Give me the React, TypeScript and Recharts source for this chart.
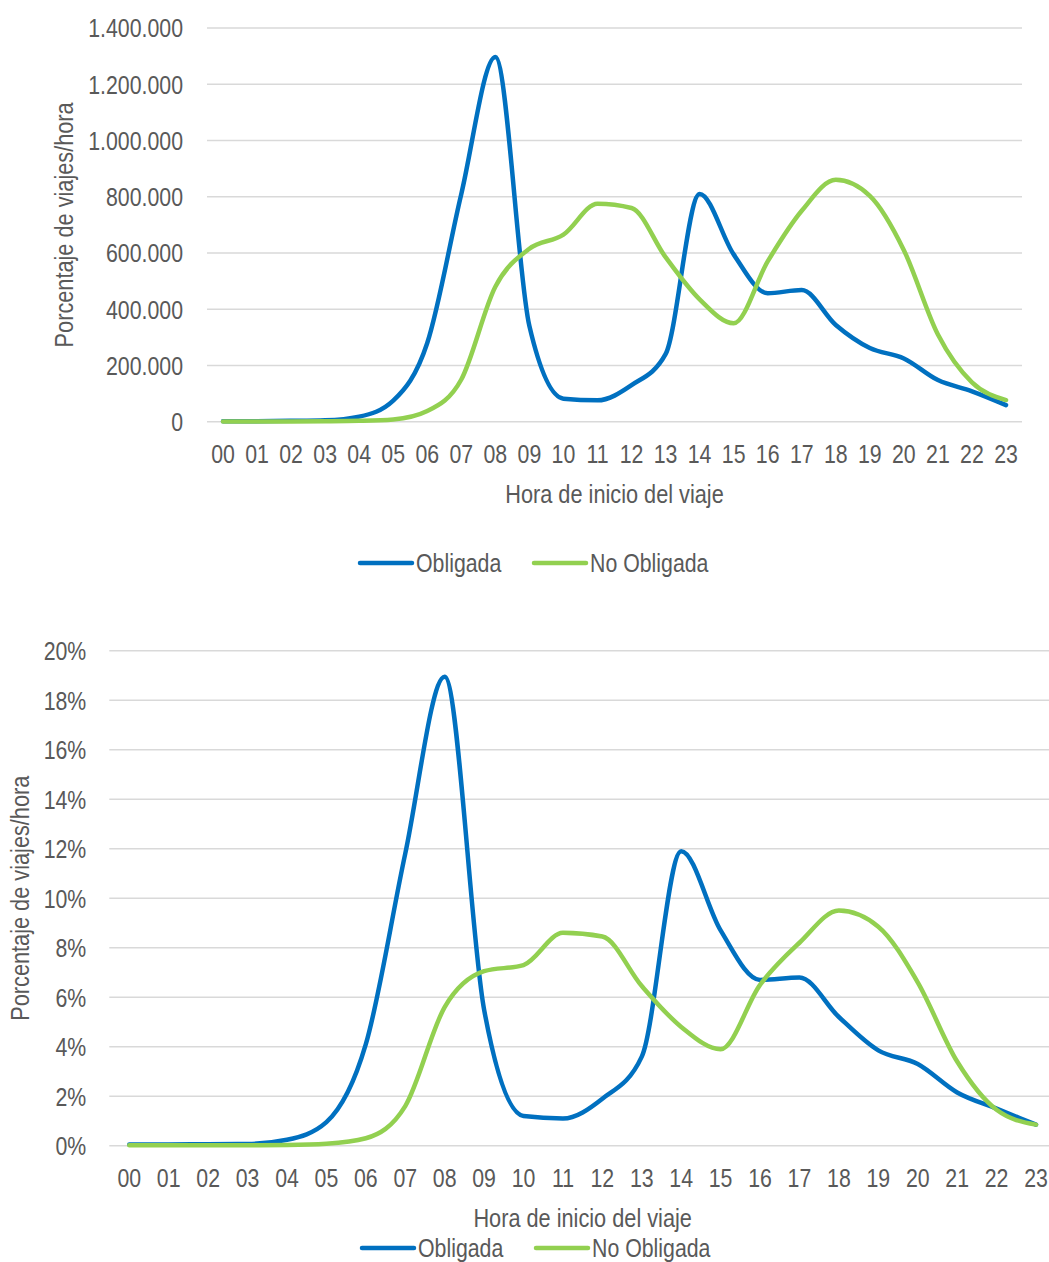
import React from "react"
import { LineChart, Line, XAxis, YAxis, CartesianGrid, Legend } from "recharts"

const hours = ["00", "01", "02", "03", "04", "05", "06", "07", "08", "09", "10", "11", "12", "13", "14", "15", "16", "17", "18", "19", "20", "21", "22", "23"]

// viajes por hora
const obligadaViajes = [2000, 2000, 3000, 5000, 18000, 75000, 280000, 810000, 1297000, 340000, 82000, 76000, 130000, 240000, 810000, 595000, 457000, 468000, 344000, 262000, 225000, 148000, 108000, 59000]
const noObligadaViajes = [1000, 1000, 1000, 1500, 3000, 8000, 38000, 150000, 480000, 615000, 665000, 775000, 760000, 585000, 435000, 350000, 570000, 750000, 860000, 803000, 610000, 310000, 140000, 77000]

// porcentaje de viajes por hora
const obligadaPct = [0.05, 0.05, 0.06, 0.07, 0.24, 0.95, 4.1, 11.8, 18.95, 5.5, 1.2, 1.1, 1.9, 3.6, 11.9, 8.7, 6.7, 6.8, 5.2, 3.85, 3.3, 2.15, 1.5, 0.85]
const noObligadaPct = [0.02, 0.02, 0.02, 0.02, 0.03, 0.08, 0.3, 1.6, 5.6, 7.05, 7.3, 8.6, 8.45, 6.45, 4.8, 3.9, 6.5, 8.2, 9.5, 8.85, 6.6, 3.4, 1.45, 0.85]

const viajesTicks = [0, 200000, 400000, 600000, 800000, 1000000, 1200000, 1400000]
const pctTicks = [0, 2, 4, 6, 8, 10, 12, 14, 16, 18, 20]

const BLUE = "#0070C0"
const GREEN = "#92D050"
const TEXT = "#595959"
const GRID = "#D9D9D9"
const FONT = "'Liberation Sans', Arial, sans-serif"
const FS = 26
// the source uses a narrow face; squeeze the regular one
const SQ = 0.82

const viajesData = hours.map((hora, i) => ({ hora, obligada: obligadaViajes[i], noObligada: noObligadaViajes[i] }))
const pctData = hours.map((hora, i) => ({ hora, obligada: obligadaPct[i], noObligada: noObligadaPct[i] }))

const fmtMiles = (v: number) => String(v).replace(/\B(?=(\d{3})+(?!\d))/g, ".")
const fmtPct = (v: number) => `${v}%`

function XTick({ x, y, payload }: any) {
  return (
    <g transform={`translate(${x},${y})`}>
      <text transform={`scale(${SQ},1)`} textAnchor="middle" dy="0.71em" fill={TEXT} fontSize={FS} fontFamily={FONT}>
        {payload.value}
      </text>
    </g>
  )
}

function makeYTick(fmt: (v: number) => string) {
  return function YTick({ x, y, payload }: any) {
    return (
      <g transform={`translate(${x},${y})`}>
        <text transform={`scale(${SQ},1)`} textAnchor="end" dy="0.36em" fill={TEXT} fontSize={FS} fontFamily={FONT}>
          {fmt(payload.value)}
        </text>
      </g>
    )
  }
}

function XTitle({ viewBox }: any) {
  const vb = viewBox || { x: 0, y: 0, width: 0, height: 0 }
  return (
    <g transform={`translate(${vb.x + vb.width / 2},${vb.y + 62})`}>
      <text transform={`scale(${SQ},1)`} textAnchor="middle" dy="0.71em" fill={TEXT} fontSize={26.5} fontFamily={FONT}>
        Hora de inicio del viaje
      </text>
    </g>
  )
}

function makeYTitle(cx: number) {
  return function YTitle({ viewBox }: any) {
    const vb = viewBox || { x: 0, y: 0, width: 0, height: 0 }
    return (
      <g transform={`translate(${cx},${vb.y + vb.height / 2}) rotate(-90)`}>
        <text transform={`scale(${SQ},1)`} textAnchor="middle" dy="0.36em" fill={TEXT} fontSize={26.5} fontFamily={FONT}>
          Porcentaje de viajes/hora
        </text>
      </g>
    )
  }
}

function LegendContent() {
  const items = [
    { name: "Obligada", color: BLUE, x: 0 },
    { name: "No Obligada", color: GREEN, x: 174 },
  ]
  return (
    <svg width={380} height={30}>
      {items.map((it) => (
        <g key={it.name}>
          <line x1={it.x + 4} y1={15} x2={it.x + 56} y2={15} stroke={it.color} strokeWidth={4.5} strokeLinecap="round" />
          <g transform={`translate(${it.x + 60},15)`}>
            <text transform={`scale(${SQ},1)`} dy="0.36em" fill={TEXT} fontSize={FS} fontFamily={FONT}>
              {it.name}
            </text>
          </g>
        </g>
      ))}
    </svg>
  )
}

const ViajesYTick = makeYTick(fmtMiles)
const PctYTick = makeYTick(fmtPct)
const ViajesYTitle = makeYTitle(63)
const PctYTitle = makeYTitle(19)

export default function App() {
  return (
    <div style={{ position: "relative", width: 1049, height: 1262, overflow: "hidden", background: "#fff" }}>
      <style>{`body{margin:0}`}</style>

      <div style={{ position: "absolute", left: 0, top: 0 }}>
        <LineChart width={1049} height={600} data={viajesData} margin={{ top: 28, right: 27, bottom: 0, left: 0 }}>
          <CartesianGrid vertical={false} stroke={GRID} strokeWidth={1.5} />
          <XAxis
            dataKey="hora"
            axisLine={false}
            tickLine={false}
            tickSize={0}
            tickMargin={23}
            height={178.3}
            interval={0}
            padding={{ left: 16, right: 16 }}
            tick={<XTick />}
            label={<XTitle />}
          />
          <YAxis
            width={207}
            domain={[0, 1400000]}
            ticks={viajesTicks}
            axisLine={false}
            tickLine={false}
            tickSize={0}
            tickMargin={24}
            tick={<ViajesYTick />}
            label={<ViajesYTitle />}
          />
          <Legend
            layout="horizontal"
            align="center"
            verticalAlign="middle"
            wrapperStyle={{ left: 356, top: 548, width: 380 }}
            content={<LegendContent />}
          />
          <Line type="monotone" dataKey="obligada" name="Obligada" stroke={BLUE} strokeWidth={4.5} dot={false} strokeLinecap="round" isAnimationActive={false} />
          <Line type="monotone" dataKey="noObligada" name="No Obligada" stroke={GREEN} strokeWidth={4.5} dot={false} strokeLinecap="round" isAnimationActive={false} />
        </LineChart>
      </div>

      <div style={{ position: "absolute", left: 0, top: 620 }}>
        <LineChart width={1070} height={642} data={pctData} margin={{ top: 30.7, right: 14, bottom: 0, left: 0 }}>
          <CartesianGrid vertical={false} stroke={GRID} strokeWidth={1.5} />
          <XAxis
            dataKey="hora"
            axisLine={false}
            tickLine={false}
            tickSize={0}
            tickMargin={23}
            height={116.3}
            interval={0}
            padding={{ left: 20, right: 20 }}
            tick={<XTick />}
            label={<XTitle />}
          />
          <YAxis
            width={109.3}
            domain={[0, 20]}
            ticks={pctTicks}
            axisLine={false}
            tickLine={false}
            tickSize={0}
            tickMargin={23}
            tick={<PctYTick />}
            label={<PctYTitle />}
          />
          <Legend
            layout="horizontal"
            align="center"
            verticalAlign="middle"
            wrapperStyle={{ left: 358, top: 613, width: 380 }}
            content={<LegendContent />}
          />
          <Line type="monotone" dataKey="obligada" name="Obligada" stroke={BLUE} strokeWidth={4.5} dot={false} strokeLinecap="round" isAnimationActive={false} />
          <Line type="monotone" dataKey="noObligada" name="No Obligada" stroke={GREEN} strokeWidth={4.5} dot={false} strokeLinecap="round" isAnimationActive={false} />
        </LineChart>
      </div>
    </div>
  )
}
